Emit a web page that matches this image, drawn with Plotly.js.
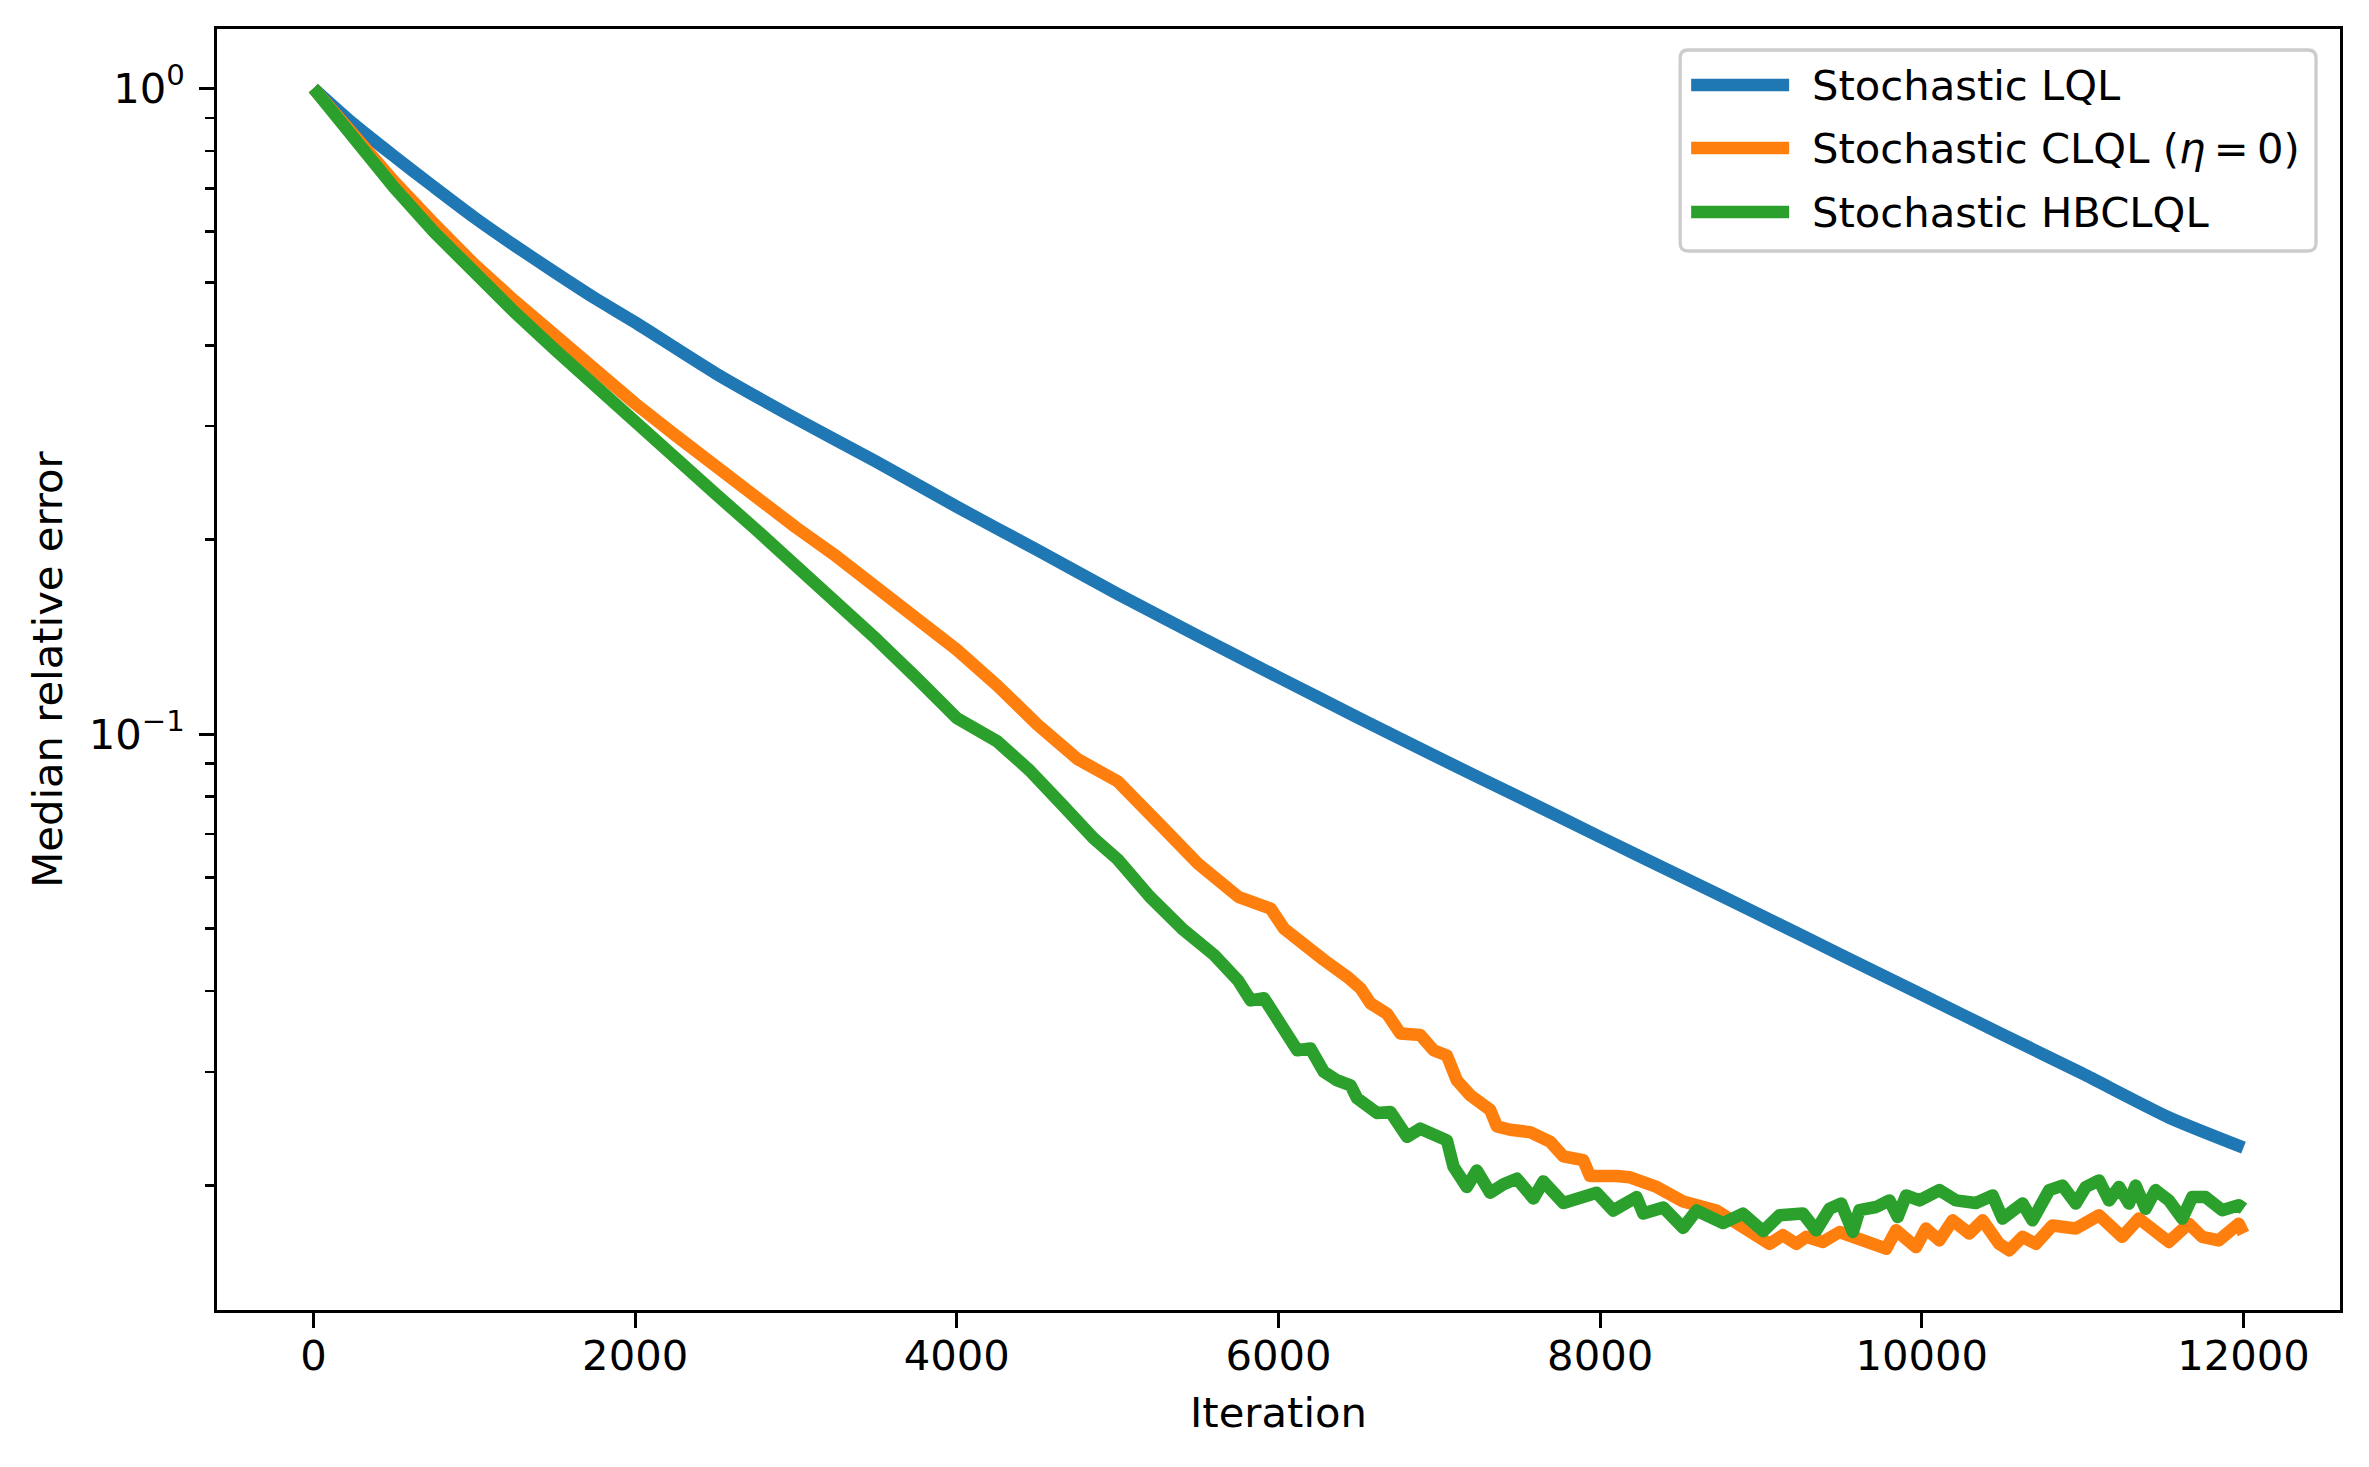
<!DOCTYPE html>
<html>
<head>
<meta charset="utf-8">
<script src="https://cdn.plot.ly/plotly-3.0.1.min.js"></script>
<style>
  html, body { margin: 0; padding: 0; background: #ffffff; }
  #chart { width: 2369px; height: 1467px; }
  .scatterlayer .js-line { stroke-linejoin: round !important; }
</style>
</head>
<body>
<div id="chart"></div>
<script>
// Median relative error vs. iteration for the three stochastic methods
const lqlIter = [0, 250, 500, 750, 1000, 1250, 1500, 1750, 2000, 2500, 3000, 3500, 4000, 4500, 5000, 5500, 6000, 6500, 7000, 7500, 8000, 8500, 9000, 9500, 10000, 10500, 11000, 11536, 12000];
const lqlErr = [1.0, 0.880, 0.785, 0.703, 0.631, 0.571, 0.519, 0.473, 0.434, 0.362, 0.308, 0.264, 0.2249, 0.1928, 0.1648, 0.1419, 0.1225, 0.1059, 0.0918, 0.0798, 0.0693, 0.0603, 0.0524, 0.0455, 0.0395, 0.0343, 0.0298, 0.0255, 0.0229];

const clqlIter = [0, 250, 500, 750, 1000, 1250, 1500, 1750, 2000, 2250, 2500, 2750, 3000, 3250, 3500, 3750, 4000, 4250, 4500, 4750, 5000, 5250, 5500, 5750, 5827,
  5951, 6034, 6158, 6282, 6427, 6510, 6572, 6675, 6758, 6882, 6964, 7047, 7109, 7192, 7316, 7358, 7440, 7564, 7688, 7771, 7895, 7936, 8102, 8185, 8351, 8516, 8723, 8930,
  9054, 9136, 9219, 9281, 9385, 9488, 9571, 9654, 9778, 9840, 9964, 10026, 10109, 10192, 10295, 10378, 10481, 10543, 10626, 10709, 10812, 10957, 11102, 11246, 11350, 11536, 11660, 11743, 11846, 11970, 12000];
const clqlErr = [1.0, 0.8436, 0.7176, 0.6171, 0.5336, 0.4688, 0.4142, 0.3659, 0.3249, 0.2903, 0.2593, 0.2327, 0.2089, 0.1886, 0.1693, 0.1521, 0.1351, 0.1190, 0.1035, 0.0915, 0.0845, 0.0730, 0.0630, 0.0560, 0.0550,
  0.0537, 0.0500, 0.0471, 0.0447, 0.0421, 0.0404, 0.0383, 0.0369, 0.0344, 0.0342, 0.0324, 0.0318, 0.0291, 0.0276, 0.0262, 0.0247, 0.0244, 0.0242, 0.0234, 0.0222, 0.0219, 0.0207, 0.0207, 0.0206, 0.0199, 0.0189, 0.0183, 0.01695,
  0.01625, 0.01676, 0.01625, 0.01666, 0.01636, 0.01695, 0.01666, 0.01645, 0.01597, 0.01705, 0.01606, 0.01716, 0.01645, 0.01767, 0.01686, 0.01767, 0.01625, 0.01588, 0.01666, 0.01625, 0.01735, 0.01716, 0.01799, 0.01666, 0.01778, 0.01636, 0.01746, 0.01666, 0.01645, 0.01746, 0.01686];

const hbclqlIter = [0, 250, 500, 750, 1000, 1250, 1500, 1750, 2000, 2250, 2500, 2750, 3000, 3250, 3500, 3750, 4000, 4250, 4450, 4650, 4850, 5000, 5200, 5400, 5600, 5750, 5827,
  5910, 6013, 6117, 6199, 6282, 6365, 6448, 6489, 6613, 6696, 6799, 6882, 7006, 7047, 7088, 7171, 7233, 7316, 7399, 7482, 7585, 7647, 7771, 7895, 7978, 8081, 8226, 8268, 8392, 8516, 8599, 8764, 8888, 9013,
  9115, 9260, 9343, 9426, 9499, 9571, 9612, 9716, 9799, 9850, 9902, 9985, 10109, 10212, 10336, 10440, 10502, 10626, 10688, 10792, 10874, 10957, 11019, 11102, 11164, 11226, 11288, 11329, 11391, 11453, 11536, 11619, 11681, 11764, 11867, 11970, 12000];
const hbclqlErr = [1.0, 0.8344, 0.7023, 0.5989, 0.5170, 0.4502, 0.3940, 0.3455, 0.3037, 0.2673, 0.2355, 0.2075, 0.1826, 0.1603, 0.1403, 0.1222, 0.1059, 0.0975, 0.0880, 0.0780, 0.0690, 0.0640, 0.0560, 0.0500, 0.0455, 0.0415, 0.0387,
  0.0390, 0.0352, 0.0324, 0.0326, 0.0300, 0.0291, 0.0286, 0.0273, 0.0259, 0.0260, 0.0238, 0.0245, 0.0238, 0.0235, 0.0214, 0.0199, 0.0211, 0.0195, 0.0201, 0.0205, 0.0191, 0.0203, 0.0188, 0.0191, 0.0195, 0.0183, 0.0192, 0.0181, 0.0185, 0.0172, 0.0183, 0.0175, 0.0181, 0.0170,
  0.01799, 0.01811, 0.01705, 0.01842, 0.01876, 0.01695, 0.01832, 0.01853, 0.01897, 0.01788, 0.01931, 0.01897, 0.01968, 0.01897, 0.01880, 0.01931, 0.01778, 0.01876, 0.01767, 0.01968, 0.02000, 0.01876, 0.01990, 0.02037, 0.01897, 0.01990, 0.01876, 0.02000, 0.01842, 0.01968, 0.01897, 0.01778, 0.01920, 0.01920, 0.01832, 0.01865, 0.01842];

const seriesNames = ['Stochastic LQL', 'Stochastic CLQL (<i>η</i>\u2009=\u20090)', 'Stochastic HBCLQL'];
const seriesColors = ['#1f77b4', '#ff7f0e', '#2ca02c'];
const seriesShape = ['spline', 'linear', 'linear'];

const yMajorVals = [0.1, 1];
const yMajorText = ['10<sup>−1</sup>', '10<sup>0</sup>'];
const yMinorVals = [0.02, 0.03, 0.04, 0.05, 0.06, 0.07, 0.08, 0.09, 0.2, 0.3, 0.4, 0.5, 0.6, 0.7, 0.8, 0.9];
const xTickVals = [0, 2000, 4000, 6000, 8000, 10000, 12000];

// figure geometry in pixels
const W = 2369, H = 1467;
const M = { l: 216.5, r: 29, t: 29, b: 157 };
const PW = W - M.l - M.r, PH = H - M.t - M.b;
const px = x => (x - M.l) / PW;
const py = y => (H - M.b - y) / PH;

const FONT = 'DejaVu Sans, Liberation Sans, sans-serif';
const FS = 41.7;
const LW = 12.5;

const xs = [lqlIter, clqlIter, hbclqlIter];
const ys = [lqlErr, clqlErr, hbclqlErr];
const traces = xs.map((x, i) => ({
  type: 'scatter', mode: 'lines', x: x, y: ys[i],
  name: seriesNames[i], showlegend: false,
  line: { color: seriesColors[i], width: LW, shape: seriesShape[i], smoothing: 0.6 },
  hoverinfo: 'skip'
}));

// legend drawn as a rounded frame, line samples and labels
const legBox = { x0: 1680, x1: 2316, y0: 50, y1: 251, r: 8 };
const legRows = [85, 148, 212];
const legLineX = [1691, 1789];
const legTextX = 1810;

function roundRectPath(b) {
  const x0 = px(b.x0), x1 = px(b.x1), y0 = py(b.y0), y1 = py(b.y1);
  const rx = b.r / PW, ry = b.r / PH;
  return `M${x0 + rx},${y0} L${x1 - rx},${y0} Q${x1},${y0} ${x1},${y0 - ry} ` +
         `L${x1},${y1 + ry} Q${x1},${y1} ${x1 - rx},${y1} L${x0 + rx},${y1} ` +
         `Q${x0},${y1} ${x0},${y1 + ry} L${x0},${y0 - ry} Q${x0},${y0} ${x0 + rx},${y0} Z`;
}

const shapes = [{
  type: 'path', xref: 'paper', yref: 'paper', path: roundRectPath(legBox),
  fillcolor: 'rgba(255,255,255,0.8)', line: { color: '#cccccc', width: 3.3 }, layer: 'above'
}];
const annotations = [];
legRows.forEach((yy, i) => {
  shapes.push({
    type: 'line', xref: 'paper', yref: 'paper',
    x0: px(legLineX[0]), x1: px(legLineX[1]), y0: py(yy), y1: py(yy),
    line: { color: seriesColors[i], width: LW }, layer: 'above'
  });
  annotations.push({
    xref: 'paper', yref: 'paper', x: px(legTextX), y: py(yy),
    xanchor: 'left', yanchor: 'middle', showarrow: false,
    text: seriesNames[i], font: { family: FONT, size: FS, color: '#000' }
  });
});

const axisCommon = {
  showline: true, mirror: true, linecolor: '#000', linewidth: 3.3,
  ticks: 'outside', ticklen: 14.6, tickwidth: 3.3, tickcolor: '#000',
  showgrid: false, zeroline: false,
  tickfont: { family: FONT, size: FS, color: '#000' }
};

const layout = {
  width: W, height: H,
  margin: M,
  paper_bgcolor: '#ffffff', plot_bgcolor: '#ffffff',
  font: { family: FONT, size: FS, color: '#000' },
  xaxis: Object.assign({}, axisCommon, {
    range: [-600, 12600], tickmode: 'array', tickvals: xTickVals,
    ticktext: xTickVals.map(String), ticklabelstandoff: -8,
    title: { text: 'Iteration', font: { family: FONT, size: FS, color: '#000' }, standoff: 20 }
  }),
  yaxis: Object.assign({}, axisCommon, {
    type: 'log', range: [-1.8916, 0.0918],
    tickmode: 'array', tickvals: yMajorVals, ticktext: yMajorText, ticklabelstandoff: 6,
    minor: { ticks: 'outside', ticklen: 8.3, tickwidth: 2.5, tickcolor: '#000', tickmode: 'array', tickvals: yMinorVals, showgrid: false },
    title: { text: 'Median relative error', font: { family: FONT, size: FS, color: '#000' }, standoff: 14 }
  }),
  shapes: shapes,
  annotations: annotations,
  showlegend: false
};

Plotly.newPlot('chart', traces, layout, { staticPlot: true, displayModeBar: false });
</script>
</body>
</html>
